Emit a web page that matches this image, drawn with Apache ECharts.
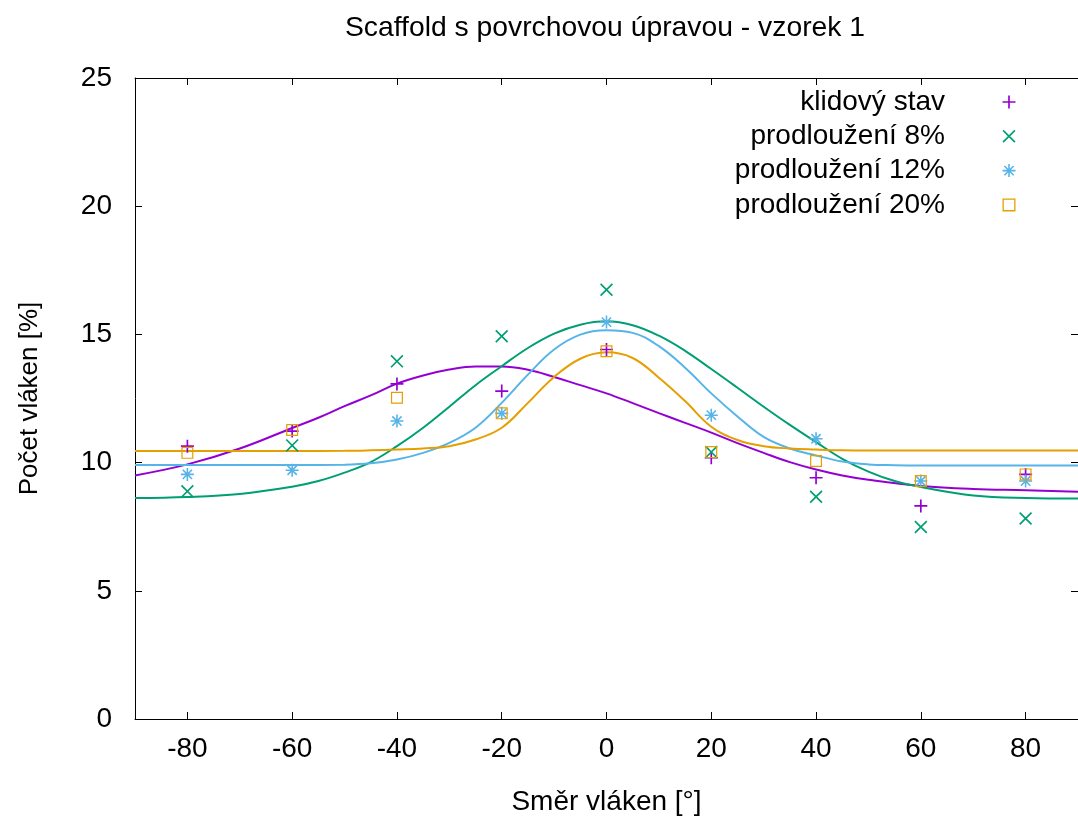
<!DOCTYPE html>
<html>
<head>
<meta charset="utf-8">
<script src="https://cdn.jsdelivr.net/npm/echarts@6/dist/echarts.min.js"></script>
<style>
  html, body { margin: 0; padding: 0; background: #fff; }
  #chart { width: 1078px; height: 821px; }
</style>
</head>
<body>
<div id="chart"></div>
<script>
// Fibre direction (degrees) at which fibres were counted
const angles = [-80, -60, -40, -20, 0, 20, 40, 60, 80];
const xTicks = [-80, -60, -40, -20, 0, 20, 40, 60, 80];

// Measured share of fibres [%] for each state
const seriesNames = ['klidový stav', 'prodloužení 8%', 'prodloužení 12%', 'prodloužení 20%'];
const restState   = [10.64, 11.23, 13.07, 12.79, 14.41, 10.19, 9.41, 8.31, 9.54];
const stretch8    = [8.88, 10.67, 13.95, 14.93, 16.74, 10.41, 8.67, 7.49, 7.82];
const stretch12   = [9.54, 9.70, 11.62, 11.92, 15.48, 11.85, 10.93, 9.28, 9.28];
const stretch20   = [10.38, 11.27, 12.53, 11.92, 14.34, 10.41, 10.06, 9.28, 9.54];

// Fitted distribution curves, [angle, %]
const restFit = [[-90, 9.50], [-80, 9.93], [-70, 10.55], [-60, 11.35], [-55, 11.75], [-50, 12.20],
  [-45, 12.62], [-40, 13.08], [-35, 13.40], [-30, 13.63], [-25, 13.75], [-20, 13.75], [-15, 13.62],
  [-10, 13.34], [-5, 13.02], [0, 12.70], [5, 12.32], [10, 11.93], [15, 11.55], [20, 11.17],
  [25, 10.76], [30, 10.38], [35, 10.02], [40, 9.73], [45, 9.50], [50, 9.33], [60, 9.09],
  [70, 8.97], [80, 8.92], [90, 8.86]];
const fit8 = [[-90, 8.62], [-80, 8.66], [-70, 8.78], [-60, 9.06], [-55, 9.28], [-50, 9.61],
  [-45, 10.02], [-40, 10.64], [-35, 11.36], [-30, 12.18], [-25, 13.02], [-20, 13.76], [-15, 14.47],
  [-10, 15.03], [-5, 15.38], [0, 15.51], [5, 15.36], [10, 14.95], [15, 14.36], [20, 13.65],
  [25, 12.92], [30, 12.18], [35, 11.47], [40, 10.80], [45, 10.15], [50, 9.65], [55, 9.28],
  [60, 9.05], [70, 8.72], [80, 8.62], [90, 8.60]];
const fit12 = [[-90, 9.91], [-80, 9.91], [-70, 9.91], [-60, 9.91], [-50, 9.92], [-45, 9.97],
  [-40, 10.12], [-35, 10.38], [-30, 10.77], [-25, 11.36], [-20, 12.33], [-15, 13.43], [-10, 14.41],
  [-5, 14.99], [0, 15.16], [5, 15.06], [10, 14.54], [15, 13.70], [20, 12.70], [25, 11.80],
  [30, 11.00], [35, 10.55], [40, 10.28], [45, 10.04], [50, 9.93], [55, 9.90], [60, 9.89],
  [70, 9.89], [80, 9.89], [90, 9.89]];
const fit20 = [[-90, 10.45], [-80, 10.45], [-70, 10.45], [-60, 10.45], [-50, 10.46], [-45, 10.48],
  [-40, 10.51], [-35, 10.55], [-30, 10.64], [-25, 10.90], [-20, 11.36], [-15, 12.33], [-10, 13.34],
  [-5, 14.05], [0, 14.30], [5, 14.08], [10, 13.31], [15, 12.40], [20, 11.40], [25, 10.88],
  [30, 10.64], [35, 10.55], [40, 10.51], [45, 10.48], [50, 10.47], [60, 10.47], [70, 10.47],
  [80, 10.47], [90, 10.47]];

const colors = ['#9400d3', '#009e73', '#56b4e9', '#e69f00'];
const FONT = 'Liberation Sans, Arial, sans-serif';

// Point glyphs: plus, diagonal cross, asterisk, hollow square
const PLUS = 'path://M-0.85,-6.6L0.85,-6.6L0.85,-0.85L6.6,-0.85L6.6,0.85L0.85,0.85L0.85,6.6L-0.85,6.6L-0.85,0.85L-6.6,0.85L-6.6,-0.85L-0.85,-0.85Z';
const CROSS = 'path://M-5.4,-6.6L6.6,5.4L5.4,6.6L-6.6,-5.4ZM-6.6,5.4L5.4,-6.6L6.6,-5.4L-5.4,6.6Z';
const STAR = 'path://M-0.8,-6.6L0.8,-6.6L0.8,-0.8L6.6,-0.8L6.6,0.8L0.8,0.8L0.8,6.6L-0.8,6.6L-0.8,0.8L-6.6,0.8L-6.6,-0.8L-0.8,-0.8Z' +
  'M-4.13,-5.27L5.27,4.13L4.13,5.27L-5.27,-4.13ZM-5.27,4.13L4.13,-5.27L5.27,-4.13L-4.13,5.27Z';
const SQUARE = 'path://M-6,-6L6,-6L6,6L-6,6ZM-4.8,-4.8L-4.8,4.8L4.8,4.8L4.8,-4.8Z';
const symbols = [PLUS, CROSS, STAR, SQUARE];

const points = [restState, stretch8, stretch12, stretch20];
const fits = [restFit, fit8, fit12, fit20];

const chart = echarts.init(document.getElementById('chart'), null, { renderer: 'canvas' });

const axisLine = { show: true, onZero: false, lineStyle: { color: '#000', width: 1 } };
const tickStyle = { color: '#000', width: 1 };

const series = [];
fits.forEach((f, i) => {
  series.push({
    type: 'line',
    name: seriesNames[i] + ' fit',
    data: f,
    showSymbol: false,
    smooth: 0.4,
    silent: true,
    z: 2,
    lineStyle: { color: colors[i], width: 2 },
    itemStyle: { color: colors[i] },
    emphasis: { disabled: true }
  });
});
points.forEach((p, i) => {
  series.push({
    type: 'scatter',
    name: seriesNames[i],
    data: angles.map((a, k) => [a, p[k]]),
    symbol: symbols[i],
    symbolSize: i === 3 ? 12 : 13,
    symbolKeepAspect: true,
    z: 3,
    itemStyle: { color: colors[i], opacity: 1 },
    emphasis: { disabled: true }
  });
});

chart.setOption({
  animation: false,
  backgroundColor: '#fff',
  title: {
    text: 'Scaffold s povrchovou úpravou - vzorek 1',
    left: 605,
    top: 14,
    padding: 0,
    textAlign: 'center',
    textStyle: { fontFamily: FONT, fontSize: 28.3, fontWeight: 'normal', color: '#000' }
  },
  legend: {
    orient: 'vertical',
    align: 'right',
    right: 62.5,
    top: 88,
    padding: 0,
    itemWidth: 118,
    itemHeight: 13,
    itemGap: 6.3,
    selectedMode: false,
    textStyle: { fontFamily: FONT, fontSize: 28, color: '#000' },
    data: seriesNames.map((n, i) => ({ name: n, icon: symbols[i] }))
  },
  grid: { left: 135, right: -7, top: 78, bottom: 101, containLabel: false },
  xAxis: [
    {
      type: 'value', position: 'bottom', min: -90, max: 90,
      axisLine: axisLine,
      axisTick: { show: true, inside: true, length: 7, customValues: xTicks, lineStyle: tickStyle },
      axisLabel: { customValues: xTicks, margin: 16, fontFamily: FONT, fontSize: 28, color: '#000' },
      splitLine: { show: false },
      name: 'Směr vláken [°]', nameLocation: 'middle', nameGap: 69,
      nameTextStyle: { fontFamily: FONT, fontSize: 28, color: '#000' }
    },
    {
      type: 'value', position: 'top', min: -90, max: 90,
      axisLine: axisLine,
      axisTick: { show: true, inside: true, length: 7, customValues: xTicks, lineStyle: tickStyle },
      axisLabel: { show: false },
      splitLine: { show: false }
    }
  ],
  yAxis: [
    {
      type: 'value', position: 'left', min: 0, max: 25, interval: 5,
      axisLine: axisLine,
      axisTick: { show: true, inside: true, length: 7, lineStyle: tickStyle },
      axisLabel: { margin: 23, fontFamily: FONT, fontSize: 28, color: '#000' },
      splitLine: { show: false },
      name: 'Počet vláken [%]', nameLocation: 'middle', nameGap: 92,
      nameTextStyle: { fontFamily: FONT, fontSize: 26, color: '#000' }
    },
    {
      type: 'value', position: 'right', min: 0, max: 25, interval: 5,
      axisLine: axisLine,
      axisTick: { show: true, inside: true, length: 7, lineStyle: tickStyle },
      axisLabel: { show: false },
      splitLine: { show: false }
    }
  ],
  series: series
});
</script>
</body>
</html>
